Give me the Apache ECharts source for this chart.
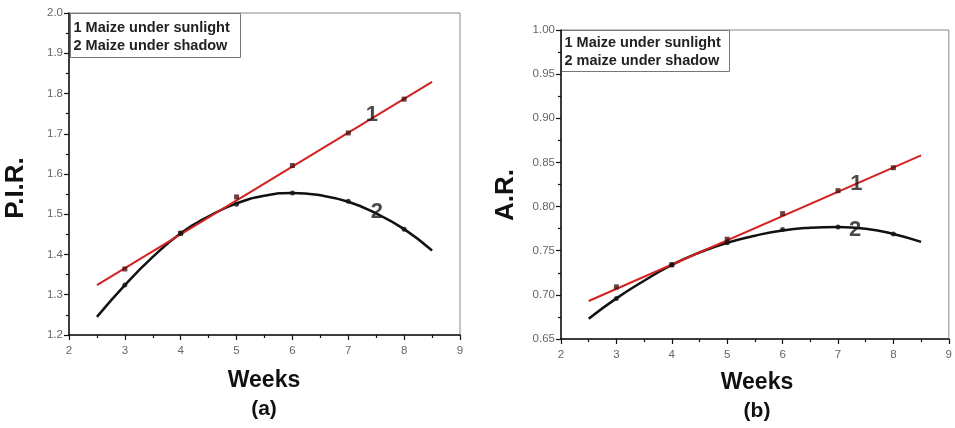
<!DOCTYPE html>
<html><head><meta charset="utf-8">
<script src="https://cdn.jsdelivr.net/npm/echarts@6/dist/echarts.min.js"></script>
<style>html,body{margin:0;padding:0;background:#fff}#c{width:955px;height:428px}</style>
</head><body><div id="c"></div>
<script>
// ---- data ----
const weeks = [3, 4, 5, 6, 7, 8];
const pirSun = [1.364, 1.453, 1.543, 1.621, 1.702, 1.786];
const pirShadow = [1.324, 1.453, 1.525, 1.553, 1.532, 1.463];
const arSun = [0.709, 0.734, 0.763, 0.792, 0.818, 0.844];
const arShadow = [0.696, 0.734, 0.759, 0.774, 0.777, 0.769];
const lineFitX = [2.5, 8.5];
const pirSunFit = [1.324, 1.829];
const arSunFit = [0.693, 0.858];
const curveFitX = [2.5, 3, 3.5, 4, 4.5, 5, 5.5, 6, 6.5, 7, 7.5, 8, 8.5];
const pirShadowFit = [1.245, 1.324, 1.394, 1.453, 1.495, 1.527, 1.546, 1.553, 1.547, 1.531, 1.502, 1.463, 1.41];
const arShadowFit = [0.673, 0.696, 0.716, 0.734, 0.748, 0.759, 0.767, 0.773, 0.776, 0.777, 0.775, 0.769, 0.760];
const curveLabels = ['1', '2'];
const pirLabelPos = [[7.42, 1.747], [7.51, 1.505]];
const arLabelPos = [[7.33, 0.826], [7.31, 0.773]];
const legendA = ['1 Maize under sunlight', '2 Maize under shadow'];
const legendB = ['1 Maize under sunlight', '2 maize under shadow'];
const xTitle = 'Weeks';
const yTitleA = 'P.I.R.';
const yTitleB = 'A.R.';
const panelA = '(a)';
const panelB = '(b)';

const pairs = (xs, ys) => xs.map((x, i) => [x, ys[i]]);
const RED = '#d32222', BLK = '#111';
const FONT = '"Liberation Sans", Arial, sans-serif';

function xAxis(gi) {
  return {
    type: 'value', gridIndex: gi, min: 2, max: 9, interval: 1,
    axisLine: { show: true, lineStyle: { color: '#111', width: 1.5 } },
    axisTick: { show: true, length: 5, lineStyle: { color: '#111', width: 1.2 } },
    minorTick: { show: true, splitNumber: 2, length: 3, lineStyle: { color: '#111', width: 1.2 } },
    axisLabel: { fontFamily: FONT, fontSize: 11.5, color: '#666', margin: 10 },
    splitLine: { show: false }
  };
}
function yAxis(gi, min, max, iv, dec) {
  return {
    type: 'value', gridIndex: gi, min: min, max: max, interval: iv,
    axisLine: { show: true, lineStyle: { color: '#111', width: 1.5 } },
    axisTick: { show: true, length: 5, lineStyle: { color: '#111', width: 1.2 } },
    minorTick: { show: true, splitNumber: 2, length: 3, lineStyle: { color: '#111', width: 1.2 } },
    axisLabel: { fontFamily: FONT, fontSize: 11.5, color: '#666', margin: 6, formatter: v => v.toFixed(dec) },
    splitLine: { show: false }
  };
}
function labelSeries(xi, pos) {
  return {
    type: 'scatter', xAxisIndex: xi, yAxisIndex: xi, symbolSize: 0, z: 5,
    data: pos.map((p, i) => ({ value: p, name: curveLabels[i] })),
    label: { show: true, position: 'inside', formatter: p => p.name,
      fontFamily: FONT, fontWeight: 'bold', fontSize: 22, color: '#1a1a1a' }
  };
}
function legendBox(x, y, w, h, lines, y1, y2) {
  return {
    type: 'group', left: x, top: y, children: [
      { type: 'rect', shape: { x: 0, y: 0, width: w, height: h }, style: { fill: '#fff', stroke: '#777', lineWidth: 1 } },
      { type: 'text', x: 3, y: y1, style: { text: lines[0], font: 'bold 14.5px ' + FONT, fill: '#222', textVerticalAlign: 'middle' } },
      { type: 'text', x: 3, y: y2, style: { text: lines[1], font: 'bold 14.5px ' + FONT, fill: '#222', textVerticalAlign: 'middle' } }
    ]
  };
}
function centerText(x, y, text, size, rot) {
  return { type: 'text', x: x, y: y, rotation: rot || 0,
    style: { text: text, font: 'bold ' + size + 'px ' + FONT, fill: '#111', textAlign: 'center', textVerticalAlign: 'middle' } };
}

const chart = echarts.init(document.getElementById('c'), null, { renderer: 'canvas' });
chart.setOption({
  backgroundColor: '#fff',
  animation: false,
  grid: [
    { left: 69, top: 13, width: 391, height: 322, show: true, borderColor: '#888', borderWidth: 1, backgroundColor: 'transparent' },
    { left: 561, top: 30, width: 390, height: 309, show: true, borderColor: '#888', borderWidth: 1, backgroundColor: 'transparent' }
  ],
  xAxis: [xAxis(0), xAxis(1)],
  yAxis: [yAxis(0, 1.2, 2.0, 0.1, 1), yAxis(1, 0.65, 1.0, 0.05, 2)],
  series: [
    { type: 'line', xAxisIndex: 0, yAxisIndex: 0, data: pairs(lineFitX, pirSunFit), symbol: 'none', lineStyle: { color: RED, width: 2 }, z: 3 },
    { type: 'line', xAxisIndex: 0, yAxisIndex: 0, data: pairs(curveFitX, pirShadowFit), smooth: true, symbol: 'none', lineStyle: { color: BLK, width: 2.5 }, z: 2 },
    { type: 'scatter', xAxisIndex: 0, yAxisIndex: 0, data: pairs(weeks, pirSun), symbol: 'rect', symbolSize: 5, itemStyle: { color: '#4a1010' }, z: 4 },
    { type: 'scatter', xAxisIndex: 0, yAxisIndex: 0, data: pairs(weeks, pirShadow), symbol: 'circle', symbolSize: 5, itemStyle: { color: '#111' }, z: 4 },
    labelSeries(0, pirLabelPos),
    { type: 'line', xAxisIndex: 1, yAxisIndex: 1, data: pairs(lineFitX, arSunFit), symbol: 'none', lineStyle: { color: RED, width: 2 }, z: 3 },
    { type: 'line', xAxisIndex: 1, yAxisIndex: 1, data: pairs(curveFitX, arShadowFit), smooth: true, symbol: 'none', lineStyle: { color: BLK, width: 2.5 }, z: 2 },
    { type: 'scatter', xAxisIndex: 1, yAxisIndex: 1, data: pairs(weeks, arSun), symbol: 'rect', symbolSize: 5, itemStyle: { color: '#4a1010' }, z: 4 },
    { type: 'scatter', xAxisIndex: 1, yAxisIndex: 1, data: pairs(weeks, arShadow), symbol: 'circle', symbolSize: 5, itemStyle: { color: '#111' }, z: 4 },
    labelSeries(1, arLabelPos)
  ],
  graphic: [
    legendBox(70, 13, 170, 44, legendA, 14, 32),
    legendBox(561, 30, 168, 41, legendB, 12, 30),
    centerText(16, 188, yTitleA, 26, Math.PI / 2),
    centerText(506, 195, yTitleB, 26, Math.PI / 2),
    centerText(264, 381, xTitle, 23),
    centerText(757, 383, xTitle, 23),
    centerText(264, 409, panelA, 21),
    centerText(757, 411, panelB, 21)
  ]
});
</script></body></html>
